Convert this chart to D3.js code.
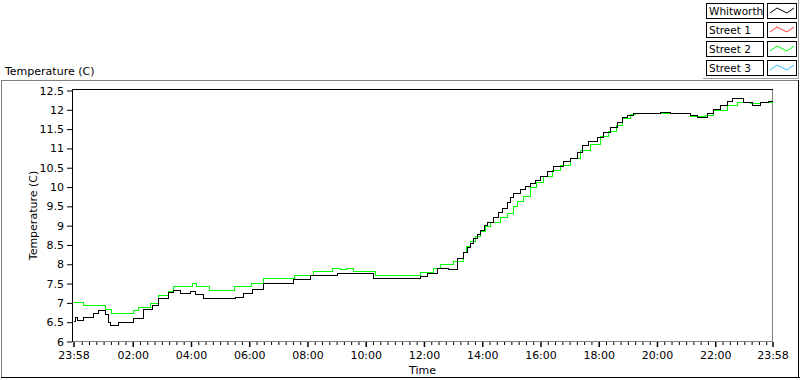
<!DOCTYPE html>
<html>
<head>
<meta charset="utf-8">
<script src="https://cdn.jsdelivr.net/npm/d3@7"></script>
<style>
  body { margin: 0; background: #fff; }
  svg { display: block; font-family: "DejaVu Sans", sans-serif; font-size: 11px; }
</style>
</head>
<body>
<div id="chart"></div>
<script>
// legend entries
var seriesNames = ["Whitworth", "Street 1", "Street 2", "Street 3"];
var seriesColors = ["#000000", "#ff3333", "#00ff00", "#33bbff"];

// Whitworth (black)
var whitTimes = ["23:58","00:02","00:06","00:19","00:39","00:50","01:04","01:10","01:14","01:31",
  "02:02","02:22","02:41","02:53","03:14","03:24","03:38","03:59","04:09","04:26",
  "05:32","05:48","06:07","06:29","07:04","07:31","08:06","09:02","10:16","11:53",
  "12:07","12:28","12:51","13:09","13:22","13:30","13:36","13:42","13:50","13:56","14:04","14:11","14:23","14:33","14:42",
  "14:52","14:58","15:04","15:19","15:30","15:39","15:50","16:00","16:14","16:27","16:47","17:02","17:16","17:27",
  "17:39","17:57","18:10","18:24","18:39","18:49","18:59","19:12","20:07","20:28",
  "21:09","21:23","21:44","21:56","22:11","22:25","22:36","22:58","23:17","23:33",
  "23:50","23:58"];
var whitTemps = [6.53,6.62,6.54,6.63,6.73,6.80,6.70,6.50,6.41,6.50,
  6.60,6.82,6.93,7.12,7.28,7.33,7.24,7.30,7.21,7.11,
  7.15,7.24,7.34,7.51,7.49,7.60,7.71,7.75,7.64,7.68,
  7.75,7.90,7.87,8.14,8.30,8.44,8.55,8.66,8.78,8.88,9.00,9.09,9.20,9.33,9.44,
  9.61,9.72,9.83,9.93,10.02,10.10,10.18,10.26,10.40,10.52,10.65,10.74,10.90,11.08,
  11.19,11.29,11.40,11.53,11.68,11.80,11.85,11.90,11.92,11.90,
  11.85,11.80,11.90,12.00,12.11,12.22,12.28,12.20,12.11,12.18,
  12.22,12.22];

// Street 1 and Street 3 show no data in the picture
var street1Times = [];
var street1Temps = [];
var street3Times = [];
var street3Temps = [];

// Street 2 (green)
var street2Times = ["23:58","00:19","01:04","01:16","02:02","02:12","02:37","02:53","03:14","03:24",
  "04:03","04:11","04:38","05:30","06:05","06:29","07:33","08:12","08:52","09:08",
  "09:20","09:35","10:20","11:53","12:20","12:34","13:01","13:21","13:28","13:36","13:46","13:56",
  "14:06","14:17","14:37","14:52","15:04","15:12","15:26","15:39","15:52","16:06","16:24","16:41","17:02","17:22",
  "17:43","18:04","18:20","18:37","18:49","19:05","19:16","21:09","21:40","21:56",
  "22:25","22:46","23:13","23:33","23:58"];
var street2Temps = [7.00,6.93,6.83,6.73,6.80,6.89,6.99,7.19,7.30,7.42,
  7.51,7.42,7.32,7.42,7.51,7.62,7.71,7.80,7.88,7.86,
  7.89,7.80,7.71,7.78,7.88,7.99,8.06,8.30,8.45,8.60,8.72,8.85,
  8.97,9.08,9.20,9.31,9.50,9.62,9.75,10.00,10.12,10.26,10.42,10.56,10.74,10.95,
  11.10,11.30,11.45,11.60,11.78,11.87,11.90,11.83,11.85,11.97,
  12.11,12.20,12.16,12.20,12.20];

var yTicks = [6, 6.5, 7, 7.5, 8, 8.5, 9, 9.5, 10, 10.5, 11, 11.5, 12, 12.5];
var xTickLabels = ["23:58","02:00","04:00","06:00","08:00","10:00","12:00","14:00","16:00","18:00","20:00","22:00","23:58"];

var svgWidth = 800;
var svgHeight = 380;
var plot = { left: 73, right: 772, top: 90, bottom: 341 };

var startTime = new Date(2000, 0, 1, 23, 58);
var endTime = new Date(2000, 0, 2, 23, 58);

function toDate(s, i) {
    var p = s.split(":");
    var h = +p[0], m = +p[1];
    var day = (i === 0 && h === 23 && m === 58) ? 1 : 2;
    return new Date(2000, 0, day, h, m);
}

function makeSeries(times, temps) {
    return times.map(function(t, i) { return { date: toDate(t, i), value: temps[i] }; });
}

var allSeries = [
    makeSeries(whitTimes, whitTemps),
    makeSeries(street1Times, street1Temps),
    makeSeries(street2Times, street2Temps),
    makeSeries(street3Times, street3Temps)
];

var svg = d3.select("#chart").append("svg")
    .attr("width", svgWidth)
    .attr("height", svgHeight);

var xScale = d3.scaleTime()
    .domain([startTime, endTime])
    .range([plot.left, plot.right]);

var yScale = d3.scaleLinear()
    .domain([6, 12.5])
    .range([plot.bottom, plot.top]);

// outer panel frame
svg.append("line").attr("x1", 1).attr("x2", 799).attr("y1", 80.5).attr("y2", 80.5).attr("stroke", "#808080");
svg.append("line").attr("x1", 1.5).attr("x2", 1.5).attr("y1", 80).attr("y2", 378).attr("stroke", "#808080");
svg.append("line").attr("x1", 1).attr("x2", 800).attr("y1", 377.5).attr("y2", 377.5).attr("stroke", "#000");
svg.append("line").attr("x1", 798.5).attr("x2", 798.5).attr("y1", 80).attr("y2", 378).attr("stroke", "#000");

svg.append("text")
    .attr("x", 5).attr("y", 75)
    .text("Temperature (C)");

// plot area borders
svg.append("line").attr("x1", plot.left).attr("x2", plot.right + 1).attr("y1", plot.top - 0.5).attr("y2", plot.top - 0.5).attr("stroke", "#000");
svg.append("line").attr("x1", plot.right + 0.5).attr("x2", plot.right + 0.5).attr("y1", plot.top).attr("y2", plot.bottom + 1).attr("stroke", "#808080");
svg.append("line").attr("x1", plot.left).attr("x2", plot.right + 1).attr("y1", plot.bottom + 0.5).attr("y2", plot.bottom + 0.5).attr("stroke", "#808080");
svg.append("line").attr("x1", plot.left - 0.5).attr("x2", plot.left - 0.5).attr("y1", plot.top - 1).attr("y2", plot.bottom + 1).attr("stroke", "#000");

// y axis
var leftAxis = d3.axisLeft(yScale)
    .tickValues(yTicks)
    .tickFormat(d3.format(""))
    .tickSize(5)
    .tickPadding(3);

var yAxisG = svg.append("g")
    .attr("transform", "translate(" + (plot.left - 1) + ",0.5)")
    .call(leftAxis);
yAxisG.select(".domain").remove();
yAxisG.selectAll("text").attr("font-family", "DejaVu Sans").attr("font-size", 11).attr("fill", "#000");
yAxisG.selectAll("line").attr("stroke", "#000");

// x axis minor ticks (every 15 minutes)
var minorTicks = d3.timeMinute.every(15).range(startTime, endTime)
    .filter(function(d) { return d.getMinutes() !== 0 || d.getHours() % 2 !== 0; });
var minorAxis = d3.axisBottom(xScale)
    .tickValues(minorTicks)
    .tickFormat("")
    .tickSize(3);
var minorG = svg.append("g")
    .attr("transform", "translate(0.5," + (plot.bottom + 1) + ")")
    .call(minorAxis);
minorG.select(".domain").remove();

// x axis major ticks
var majorTicks = xTickLabels.map(function(t, i) { return toDate(t, i); });
var bottomAxis = d3.axisBottom(xScale)
    .tickValues(majorTicks)
    .tickFormat(d3.timeFormat("%H:%M"))
    .tickSize(5)
    .tickPadding(4);
var xAxisG = svg.append("g")
    .attr("transform", "translate(0.5," + (plot.bottom + 1) + ")")
    .call(bottomAxis);
xAxisG.select(".domain").remove();
xAxisG.selectAll("line").attr("stroke", "#000").attr("stroke-width", 1.5);
xAxisG.selectAll("text").attr("font-family", "DejaVu Sans").attr("font-size", 11).attr("fill", "#000");

svg.append("text")
    .attr("x", (plot.left + plot.right) / 2)
    .attr("y", 374)
    .attr("text-anchor", "middle")
    .text("Time");

svg.append("text")
    .attr("transform", "translate(37," + ((plot.top + plot.bottom) / 2) + ") rotate(-90)")
    .attr("text-anchor", "middle")
    .text("Temperature (C)");

// series lines, snapped to the pixel grid, drawn last to first so Whitworth is on top
var line = d3.line()
    .x(function(d) { return Math.round(xScale(d.date)) + 0.5; })
    .y(function(d) { return Math.round(yScale(d.value)) + 0.5; })
    .curve(d3.curveStepAfter);

var plotG = svg.append("g");
[3, 2, 1, 0].forEach(function(i) {
    if (allSeries[i].length === 0) return;
    plotG.append("path")
        .datum(allSeries[i])
        .attr("d", line)
        .attr("fill", "none")
        .attr("stroke", seriesColors[i])
        .attr("stroke-width", 1)
        .attr("shape-rendering", "crispEdges");
});

// legend
var legendG = svg.append("g");
legendG.append("path")
    .attr("d", "M703,78.5 H798.5 V0")
    .attr("fill", "none")
    .attr("stroke", "#a0a0a0");

var rows = legendG.selectAll("g.row")
    .data(seriesNames)
    .enter()
    .append("g")
    .attr("class", "row")
    .attr("transform", function(d, i) { return "translate(0," + (3 + i * 19) + ")"; });

rows.append("rect")
    .attr("x", 706.5).attr("y", 0.5)
    .attr("width", 57).attr("height", 15)
    .attr("fill", "#fff").attr("stroke", "#000");

rows.append("text")
    .attr("x", 709).attr("y", 12)
    .attr("font-size", 10.5)
    .text(function(d) { return d; });

rows.append("rect")
    .attr("x", 767.5).attr("y", 0.5)
    .attr("width", 29).attr("height", 15)
    .attr("fill", "#fff").attr("stroke", "#000");

rows.append("polyline")
    .attr("points", "770,10 777,5 787,10 794,5")
    .attr("fill", "none")
    .attr("stroke", function(d, i) { return seriesColors[i]; })
    .attr("stroke-width", 1);
</script>
</body>
</html>
